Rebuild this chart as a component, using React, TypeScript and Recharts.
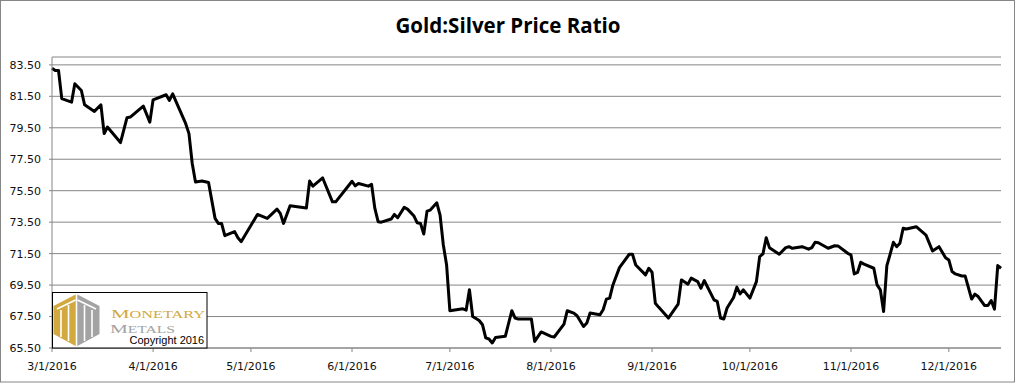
import { LineChart, Line, XAxis, YAxis, CartesianGrid } from "recharts";

const YEAR = 2016;
const TITLE = "Gold:Silver Price Ratio";

// trading dates (M/D) and gold:silver ratio
const dates = [
  "3/1", "3/2", "3/3", "3/4", "3/7", "3/8", "3/10", "3/11", "3/14", "3/16",
  "3/17", "3/18", "3/22", "3/24", "3/25", "3/29", "3/31", "4/1", "4/5", "4/6",
  "4/7", "4/11", "4/12", "4/13", "4/14", "4/16", "4/18", "4/20", "4/21", "4/22",
  "4/23", "4/26", "4/27", "4/28", "5/3", "5/6", "5/9", "5/10", "5/11", "5/13",
  "5/18", "5/19", "5/20", "5/23", "5/26", "5/27", "6/1", "6/2", "6/3", "6/6",
  "6/7", "6/8", "6/9", "6/10", "6/13", "6/14", "6/15", "6/17", "6/18", "6/20",
  "6/21", "6/22", "6/23", "6/24", "6/25", "6/27", "6/28", "6/29", "6/30", "7/1",
  "7/5", "7/6", "7/7", "7/8", "7/10", "7/11", "7/12", "7/13", "7/14", "7/15",
  "7/18", "7/20", "7/21", "7/22", "7/26", "7/27", "7/29", "8/1", "8/2", "8/5",
  "8/6", "8/8", "8/9", "8/11", "8/12", "8/13", "8/16", "8/17", "8/18", "8/19",
  "8/20", "8/22", "8/25", "8/26", "8/27", "8/30", "8/31", "9/1", "9/2", "9/3",
  "9/6", "9/9", "9/10", "9/11", "9/12", "9/13", "9/15", "9/16", "9/17", "9/20",
  "9/21", "9/22", "9/23", "9/24", "9/26", "9/27", "9/28", "9/29", "10/1", "10/3",
  "10/4", "10/5", "10/6", "10/7", "10/10", "10/12", "10/13", "10/14", "10/17", "10/19",
  "10/20", "10/21", "10/22", "10/25", "10/27", "10/28", "10/31", "11/1", "11/2", "11/3",
  "11/4", "11/5", "11/8", "11/9", "11/10", "11/11", "11/12", "11/13", "11/14", "11/15",
  "11/16", "11/17", "11/18", "11/21", "11/24", "11/26", "11/28", "11/30", "12/1", "12/2",
  "12/3", "12/5", "12/6", "12/8", "12/9", "12/10", "12/12", "12/13", "12/14", "12/15",
  "12/16", "12/17",
];

const ratio = [
  83.28, 83.14, 83.14, 81.35, 81.13, 82.3, 81.87, 80.96, 80.54, 80.96,
  79.13, 79.55, 78.56, 80.14, 80.18, 80.88, 79.86, 81.28, 81.6, 81.24,
  81.66, 79.76, 79.13, 77.23, 76.06, 76.12, 76.02, 73.74, 73.42, 73.42,
  72.64, 72.9, 72.51, 72.26, 73.99, 73.74, 74.33, 74.06, 73.42, 74.54,
  74.4, 76.12, 75.79, 76.31, 74.79, 74.79, 76.1, 75.81, 75.96, 75.79,
  75.9, 74.37, 73.53, 73.5, 73.7, 73.99, 73.78, 74.44, 74.33, 73.89,
  73.46, 73.42, 72.75, 74.2, 74.27, 74.73, 73.95, 72.05, 70.78, 67.87,
  67.99, 67.91, 69.2, 67.5, 67.25, 66.98, 66.14, 66.07, 65.82, 66.17,
  66.24, 67.87, 67.4, 67.34, 67.34, 65.92, 66.52, 66.24, 66.2, 67.02,
  67.87, 67.72, 67.55, 66.87, 67.09, 67.72, 67.61, 67.93, 68.61, 68.67,
  69.51, 70.61, 71.46, 71.46, 70.78, 70.15, 70.57, 70.32, 68.35, 68.1,
  67.4, 68.29, 69.83, 69.7, 69.56, 69.94, 69.72, 69.3, 69.79, 68.56,
  68.46, 67.4, 67.34, 68.04, 68.71, 69.37, 68.94, 69.2, 68.67, 69.72,
  71.31, 71.48, 72.51, 71.88, 71.46, 71.88, 71.94, 71.84, 71.94, 71.78,
  71.88, 72.22, 72.19, 71.84, 72.0, 71.99, 71.52, 71.42, 70.21, 70.3,
  70.95, 70.83, 70.57, 69.51, 69.2, 67.82, 70.74, 71.46, 72.22, 71.94,
  72.16, 73.11, 73.06, 73.21, 72.68, 71.67, 71.94, 71.24, 71.1, 70.36,
  70.21, 70.08, 70.08, 68.61, 68.92, 68.77, 68.2, 68.2, 68.52, 67.97,
  70.74, 70.57,
];

const monthTicks = ["3/1", "4/1", "5/1", "6/1", "7/1", "8/1", "9/1", "10/1", "11/1", "12/1"];
const yTicks = [65.5, 67.5, 69.5, 71.5, 73.5, 75.5, 77.5, 79.5, 81.5, 83.5];
const Y_MIN = 65.5;
const Y_MAX = 84;

const toTime = (md: string) => {
  const [m, d] = md.split("/").map(Number);
  return Date.UTC(YEAR, m - 1, d);
};

const fmtDate = (t: number) => {
  const dt = new Date(t);
  return `${dt.getUTCMonth() + 1}/${dt.getUTCDate()}/${dt.getUTCFullYear()}`;
};

const data = dates.map((d, i) => ({ t: toTime(d), ratio: ratio[i] }));

const GRID = "#868686";
const GOLD = "#D2A93E";
const GREY = "#A3A3A3";

function Logo() {
  // hexagon split gold / grey, centred on the left of the box
  const cx = 76.5;
  return (
    <g>
      <rect x={52.5} y={292.5} width={154.5} height={55.5} fill="#fff" stroke="#000" strokeWidth={1} />
      <polygon points={`${cx},294 ${cx},346.5 53.5,334 53.5,306`} fill={GOLD} />
      <polygon points={`${cx},294 99.5,306 99.5,334 ${cx},346.5`} fill={GREY} />
      <g stroke="#fff" strokeWidth={1.6}>
        <line x1={cx} y1={293} x2={cx} y2={347} />
        <line x1={61} y1={310} x2={61} y2={337} />
        <line x1={68.5} y1={305} x2={68.5} y2={341} />
        <line x1={84.5} y1={305} x2={84.5} y2={341} />
        <line x1={92} y1={310} x2={92} y2={337} />
        <line x1={57} y1={309} x2={cx - 1} y2={300} />
        <line x1={cx + 1} y1={300} x2={96} y2={309} />
      </g>
      <text x={111} y={318} fontFamily="Liberation Serif" fill={GOLD} textLength={94} lengthAdjust="spacingAndGlyphs">
        <tspan fontSize={13.5}>M</tspan>
        <tspan fontSize={10.5}>ONETARY</tspan>
      </text>
      <text x={110} y={333} fontFamily="Liberation Serif" fill={GREY} textLength={65} lengthAdjust="spacingAndGlyphs">
        <tspan fontSize={13.5}>M</tspan>
        <tspan fontSize={10.5}>ETALS</tspan>
      </text>
      <text x={129.5} y={344} fontFamily="Liberation Sans" fontSize={11} fill="#000">
        Copyright 2016
      </text>
    </g>
  );
}

export default function App() {
  const tickStyle = { fill: "#111", fontSize: 11, fontFamily: "DejaVu Sans" };
  return (
    <div style={{ position: "relative", width: 1016, height: 383, background: "#fff" }}>
      <style>{`body{margin:0}`}</style>
      <LineChart
        width={1016}
        height={383}
        data={data}
        margin={{ top: 57, right: 15, bottom: 0, left: 0 }}
      >
        <CartesianGrid vertical={false} stroke={GRID} strokeWidth={1} />
        <XAxis
          dataKey="t"
          type="number"
          domain={[toTime("3/1"), toTime("12/17")]}
          ticks={monthTicks.map(toTime)}
          tickFormatter={fmtDate}
          stroke={GRID}
          tick={tickStyle}
          tickSize={4}
          tickMargin={10}
          height={35}
          interval={0}
        />
        <YAxis
          type="number"
          domain={[Y_MIN, Y_MAX]}
          ticks={yTicks}
          tickFormatter={(v: number) => v.toFixed(2)}
          stroke={GRID}
          tick={tickStyle}
          tickSize={3}
          tickMargin={8}
          width={52}
          interval={0}
        />
        <Line
          type="linear"
          dataKey="ratio"
          stroke="#000"
          strokeWidth={3}
          strokeLinejoin="round"
          dot={false}
          isAnimationActive={false}
        />
      </LineChart>
      <svg
        width={1016}
        height={383}
        style={{ position: "absolute", left: 0, top: 0, pointerEvents: "none" }}
      >
        <rect x={0.5} y={0.5} width={1014} height={381.5} fill="none" stroke={GRID} strokeWidth={1} />
        <text
          x={508}
          y={33}
          textAnchor="middle"
          fontFamily="Open Sans"
          fontWeight="bold"
          fontSize={20.5}
          fill="#000"
        >
          {TITLE}
        </text>
        <Logo />
      </svg>
    </div>
  );
}
